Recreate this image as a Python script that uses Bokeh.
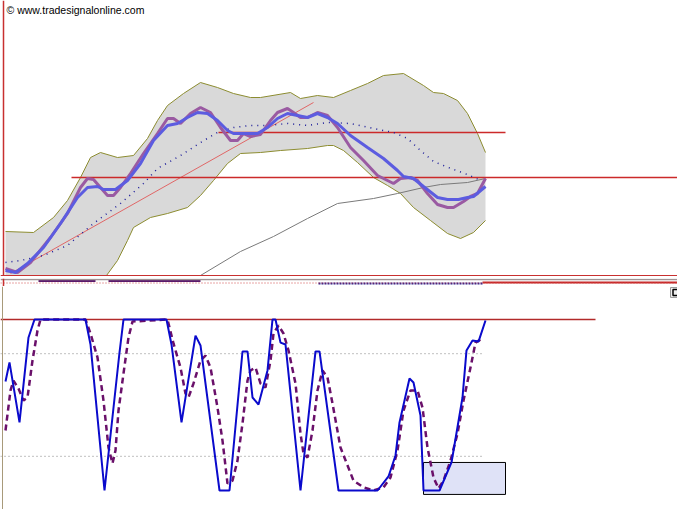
from bokeh.plotting import figure
from bokeh.layouts import column
from bokeh.models import Range1d, Span, Label
from bokeh.embed import file_html
from bokeh.resources import INLINE

# ---------------- top pane: price, averages, Bollinger bands (x = bar index) ----------------
price_x = [0, 2.4, 5, 9, 12.4, 15, 16.4, 17.6, 19, 20.4, 21.6, 23, 25, 27.6, 30.4, 32.4, 33.6, 35, 37, 39,
           41, 43, 45, 46.4, 47.6, 49, 51, 53, 54.4, 56.4, 57.6, 59, 60.4, 62.4, 64.4, 66.4, 69, 71.6, 74.4,
           76.4, 77.6, 79, 81, 82.4, 84.4, 86.4, 88.4, 89.6, 91.6, 93, 94.4, 96]
price_y = [32, 28, 38, 63, 87, 113, 122, 121, 113, 105, 105, 113, 127, 147, 167, 182, 182, 177, 187, 193,
           188, 173, 160, 160, 167, 164, 166, 180, 188, 192, 188, 183, 183, 188, 185, 173, 153, 140, 125,
           120, 117, 122, 123, 120, 107, 96, 93, 93, 99, 104, 107, 122]

ma_fast_x = [0, 2, 4.4, 7.6, 11, 14.4, 16.4, 18.4, 19.6, 22, 24.4, 27, 29.6, 32.4, 34.4, 36.4, 38.4, 40.4,
             42.4, 44.4, 45.6, 49, 50.4, 52.4, 54.4, 56.4, 58.4, 60.4, 62.4, 64.4, 66.4, 69, 72.4, 75.6,
             78.4, 79.6, 81.6, 83.6, 86.4, 88.4, 90.6, 92.4, 93.6, 96]
ma_fast_y = [30, 28, 37, 53, 77, 103, 113, 114, 111, 111, 120, 137, 160, 175, 177, 183, 188, 187, 180, 170,
             167, 167, 167, 173, 182, 187, 185, 183, 187, 183, 177, 165, 153, 142, 130, 124, 122, 114, 103,
             101, 101, 103, 104, 114]

ma_mid_x = [0, 3, 7.6, 12.4, 17.6, 23, 27.6, 30.4, 35, 39, 42.4, 45.6, 49, 52.4, 56.4, 60.4, 64.4, 69,
            73.6, 77.6, 80.4, 83, 85.6, 89.6, 92.4, 94.6]
ma_mid_y = [38, 40, 45, 55, 77, 97, 117, 132, 145, 158, 168, 173, 175, 175, 177, 175, 178, 177, 172, 168,
            162, 150, 139, 131, 126, 121]

ma_slow_x = [37, 47, 53.6, 60.4, 66.4, 73.6, 78.4, 83.6, 87, 92.4, 96]
ma_slow_y = [19, 49, 64, 82, 97, 102, 107, 113, 116, 118, 122]

bb_up_x = [0, 5.6, 9.6, 12.4, 15, 17, 19, 22.4, 25.6, 28.4, 30.4, 32.4, 35.6, 39, 42.4, 45.6, 49, 51, 57,
           59, 62.4, 65.6, 69, 72.4, 75.6, 79.6, 83.6, 85.6, 87.6, 90.4, 92.4, 94.4, 96]
bb_up_y = [69, 68, 83, 100, 123, 143, 148, 143, 145, 162, 180, 195, 207, 218, 213, 207, 203, 203, 208,
           202, 205, 203, 210, 217, 225, 227, 215, 208, 207, 200, 187, 167, 148]
bb_lo_x = [0, 7, 15, 20.2, 22.4, 24.4, 25.6, 29, 32.4, 36.4, 39, 41.6, 44.4, 47, 51, 55, 60.4, 64.4, 65.6,
           67.6, 70.4, 73.6, 76.4, 79, 81.6, 85, 88.4, 91, 93.6, 96]
bb_lo_y = [-30, -20, 0, 25, 40, 60, 73, 83, 87, 93, 105, 120, 137, 147, 148, 150, 152, 155, 155, 150, 138,
           123, 115, 107, 93, 80, 67, 62, 68, 80]

trend_x = [1, 61.6]
trend_y = [27, 198]

top_levels = [168, 123]
top_level_from = [42.6, 13.2]
top_level_to = [100, 137]

# ---------------- middle (collapsed) pane ----------------
mid_bar_from = [6.6, 20.6]
mid_bar_to = [18, 39]

# ---------------- bottom pane: stochastic %K / %D ----------------
k_x = [0, 0.8, 2.8, 4.6, 5.8, 16, 17, 19.8, 22.8, 23.6, 32.2, 33.2, 35.2, 38, 39, 42.8, 44.8, 47.4, 48.4,
       49.4, 50.6, 52.4, 53.4, 54, 55, 56, 59, 62, 62.8, 66.6, 74.4, 76.6, 78, 78.8, 80.8, 81.6, 83, 83.6,
       86.8, 89.2, 91.4, 92.2, 93.4, 94.6, 96]
k_y = [63.7, 74.9, 39.8, 89.5, 100, 100, 85.4, 0, 80.7, 100, 100, 85.4, 39.8, 90.6, 84.8, 0, 0, 81.3, 81.3,
       54.4, 50.3, 70.2, 100, 100, 86.5, 85.4, 0, 81.3, 81.3, 0, 0, 8.2, 20.5, 39.8, 65.5, 63.2, 43.9, 0,
       0, 16.4, 54.4, 81.9, 87.7, 87.1, 99.4]
d_x = [0, 1, 1.6, 2.6, 3.6, 4.4, 5.4, 6.4, 7, 16, 17, 18.4, 19.6, 20.6, 21.4, 22, 22.6, 23.6, 24.6, 25.4,
       32.4, 33.6, 35, 36, 36.6, 37.6, 39, 40, 41, 42.4, 43.4, 44.4, 45.4, 46.4, 47.4, 48.4, 49, 50, 51, 52,
       53, 53.6, 54.6, 55.6, 56.6, 58, 59, 59.6, 60.4, 61.4, 62.4, 63.4, 64.4, 65.4, 67, 69.6, 71.6, 73.6,
       75.6, 77, 78.4, 79.6, 81, 82.4, 83.4, 84.4, 85.6, 86.6, 87.6, 89, 90.4, 91.6, 93, 94, 95]
d_y = [35.1, 58.5, 64.3, 59.6, 52.6, 54.4, 76, 93.6, 100, 100, 91.8, 77.8, 52.6, 25.1, 15.8, 23.4, 46.8,
       68.4, 89.5, 98.8, 100, 86, 71.9, 56.7, 54.4, 62.6, 76, 78.9, 71.9, 48.5, 29.2, 4.1, 5.8, 17.5, 39.2,
       64.3, 70.2, 71.9, 62.6, 60.2, 76, 91.8, 96.5, 91.8, 81.9, 62.6, 33.3, 21.6, 19.3, 35.1, 58.5, 70.2,
       66.1, 50.9, 25.1, 5.8, 1.8, 0, 1.8, 7.6, 23.4, 46.8, 58.5, 58.5, 48.5, 25.1, 7.6, 1.2, 5.8, 17.5,
       33.3, 52.6, 71.9, 86.5, 88.3]

stoch_top = 100
stoch_top_to = 118
stoch_bands = [80, 20]
stoch_bands_to = 95.6

zone_left, zone_right, zone_bottom, zone_top = 83.6, 100, -2.3, 16.4

# ---------------- figures ----------------
W = 677
xr = Range1d(-1, 134.4)


def make_fig(h, y0, y1):
    f = figure(width=W, height=h, x_range=xr, y_range=Range1d(y0, y1),
               output_backend="svg", toolbar_location=None,
               x_axis_location=None, y_axis_location=None,
               min_border=0, outline_line_color=None)
    f.min_border_left = f.min_border_right = f.min_border_top = f.min_border_bottom = 0
    f.grid.visible = False
    f.background_fill_color = "white"
    f.border_fill_color = "white"
    return f


top = make_fig(276, 24, 300)
band_x = bb_up_x + bb_lo_x[::-1]
band_y = bb_up_y + bb_lo_y[::-1]
top.patch(band_x, band_y, fill_color="#d9d9d9", line_color=None)
top.line(bb_up_x, bb_up_y, line_color="#8c8c30", line_width=1)
top.line(bb_lo_x, bb_lo_y, line_color="#8c8c30", line_width=1)
top.line(ma_slow_x, ma_slow_y, line_color="#7a7a7a", line_width=1)
top.line(trend_x, trend_y, line_color="#e06666", line_width=1)
top.segment(x0=top_level_from, y0=top_levels, x1=top_level_to, y1=top_levels,
            line_color="#cc2a2a", line_width=1.5)
top.line(ma_mid_x, ma_mid_y, line_color="#1c1c9a", line_width=1.5, line_dash="1 5")
top.line(price_x, price_y, line_color="#9a5aa2", line_width=3)
top.line(ma_fast_x, ma_fast_y, line_color="#5c5ce0", line_width=3)
top.add_layout(Span(location=25, dimension="width", line_color="#c83030", line_width=1))
top.add_layout(Span(location=-0.4, dimension="height", line_color="#c83030", line_width=1.5))
top.add_layout(Label(x=0.2, y=297, text="© www.tradesignalonline.com", text_font="Liberation Sans",
                     text_font_size="10.5px", text_color="black", text_baseline="top",
                     text_align="left"))

mid = make_fig(10, 0, 10)
mid.add_layout(Span(location=9, dimension="width", line_color="#a09494", line_width=1.5))
mid.segment(x0=mid_bar_from, y0=[7.5, 7.5], x1=mid_bar_to, y1=[7.5, 7.5],
            line_color="#5a1a6c", line_width=2)
mid.add_layout(Span(location=5.5, dimension="width", line_color="#d04848", line_width=1,
                    line_dash="1 2"))
mid.segment(x0=[62.6], y0=[5], x1=[95.4], y1=[5], line_color="#2a1a8a", line_width=2,
            line_dash="2 1")
mid.segment(x0=[95.4], y0=[6], x1=[140], y1=[6], line_color="#c62828", line_width=2)
mid.add_layout(Span(location=1.5, dimension="width", line_color="#8f8f8f", line_width=2))
mid.add_layout(Span(location=-0.4, dimension="height", line_color="#c83030", line_width=1.5))

bot = make_fig(223, -11.11, 119.3)
bot.add_layout(Span(location=-0.6, dimension="height", line_color="#a89a7a", line_width=1))
bot.quad(left=[zone_left], right=[zone_right], bottom=[zone_bottom], top=[zone_top],
         fill_color="#dfe2f7", line_color="black", line_width=1)
bot.segment(x0=[-1, -1], y0=stoch_bands, x1=[stoch_bands_to] * 2, y1=stoch_bands,
            line_color="#808080", line_width=1, line_dash="1 3")
bot.segment(x0=[-1], y0=[stoch_top], x1=[stoch_top_to], y1=[stoch_top],
            line_color="#b22a2a", line_width=1.5)
bot.line(d_x, d_y, line_color="#6a106a", line_width=2.5, line_dash="6 4")
bot.line(k_x, k_y, line_color="#0a0acc", line_width=2)
# pane buttons
bot.quad(left=[133, 135.2], right=[135, 137.2], bottom=[112.9, 112.9], top=[118.7, 118.7],
         fill_color="#eeeeee", line_color="#9a9a9a", line_width=1)
bot.quad(left=[133.5], right=[134.6], bottom=[114], top=[117.5], fill_color=None,
         line_color="black", line_width=1.5)
bot.segment(x0=[135.6, 135.6], y0=[117.5, 113.5], x1=[136.8, 136.8], y1=[113.5, 117.5],
            line_color="black", line_width=1.2)

p = column(top, mid, bot)
open("out.html", "w").write(file_html(p, INLINE))
